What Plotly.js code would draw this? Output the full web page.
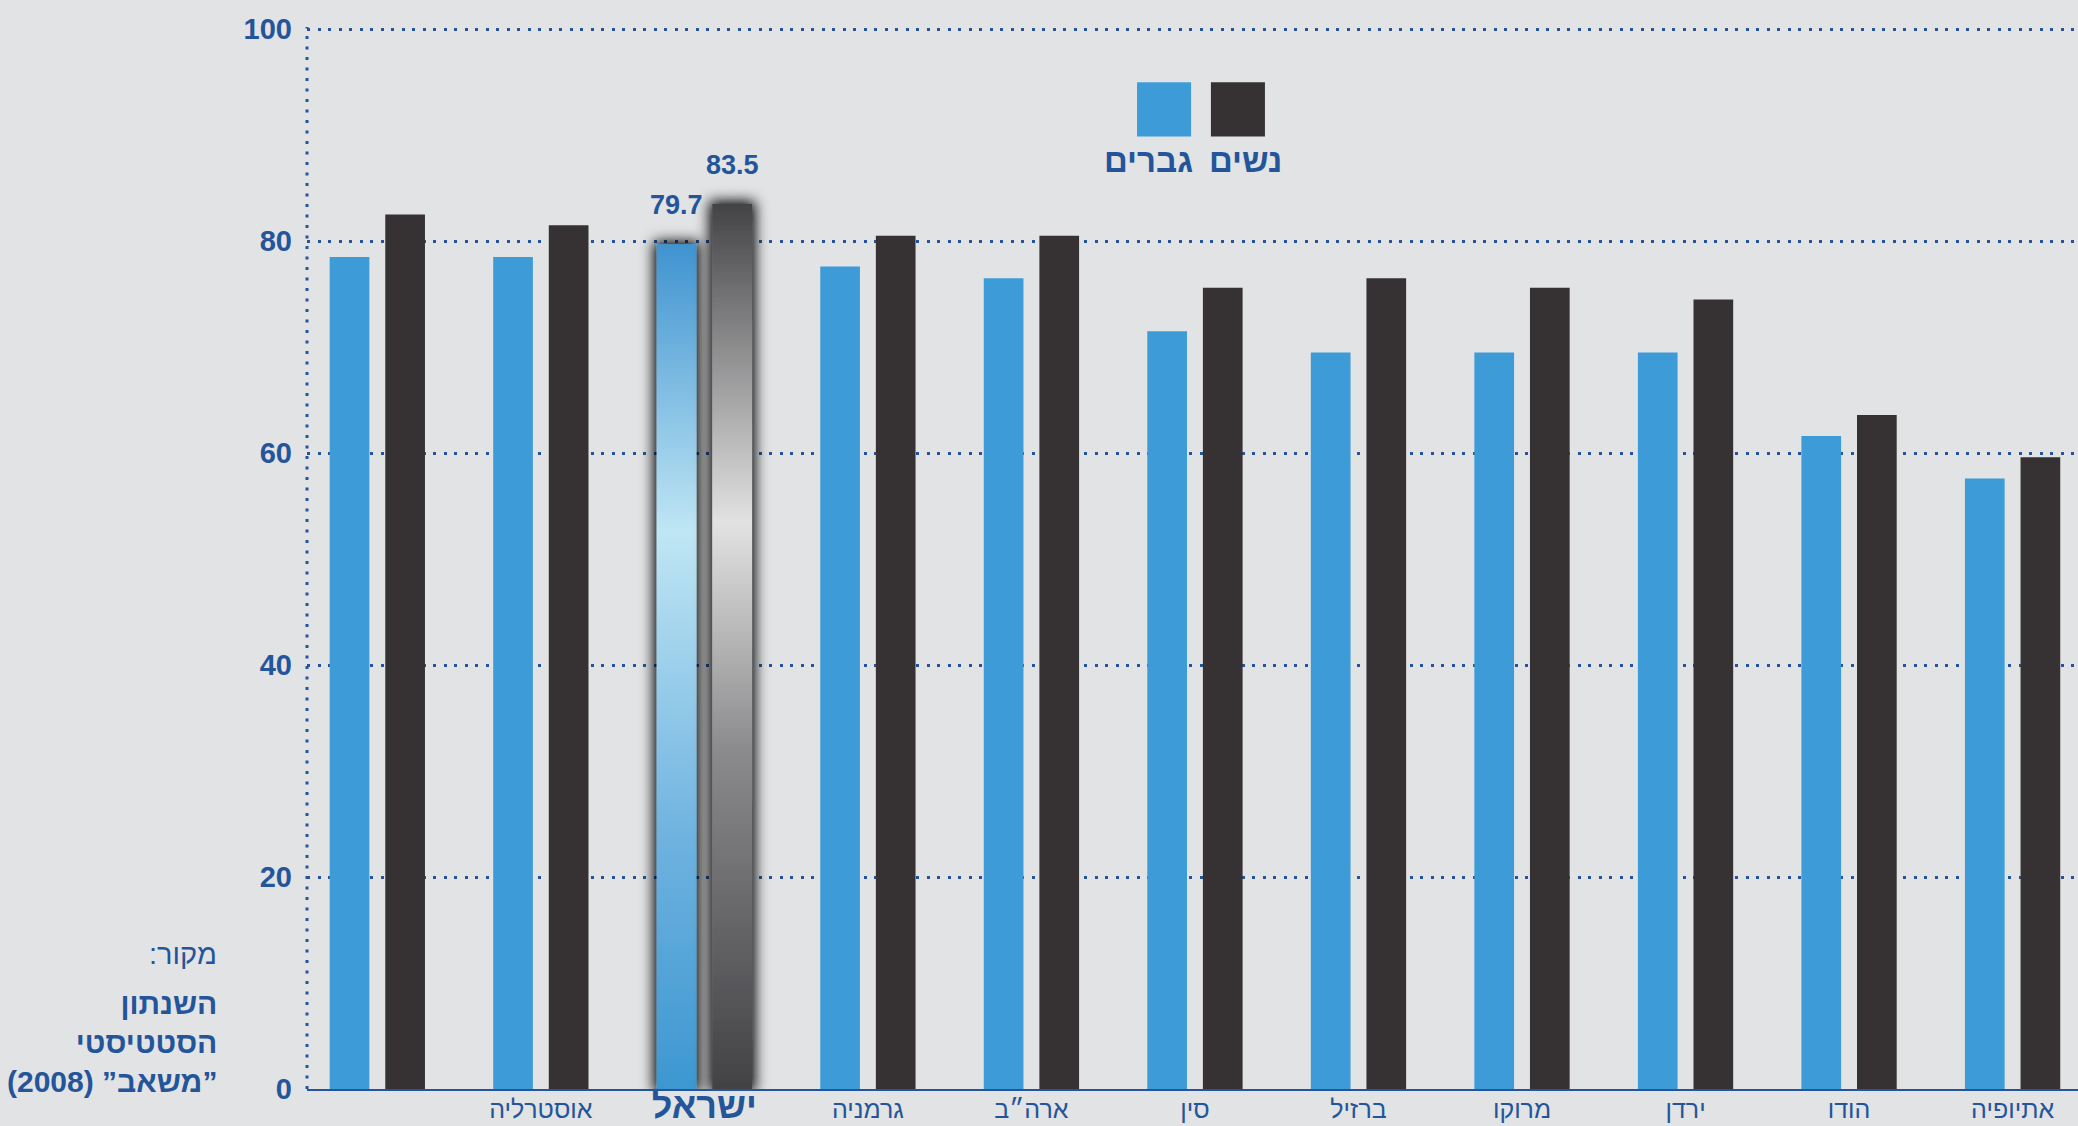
<!DOCTYPE html>
<html>
<head>
<meta charset="utf-8">
<script src="https://cdn.plot.ly/plotly-3.0.1.min.js"></script>
<style>
  html, body { margin: 0; padding: 0; background: #e2e3e5; }
  #chart { width: 2078px; height: 1126px; }
</style>
</head>
<body>
<div id="chart"></div>
<script>
// ---- data ----
const countries = ['', 'אוסטרליה', 'ישראל', 'גרמניה', 'ארה״ב', 'סין', 'ברזיל', 'מרוקו', 'ירדן', 'הודו', 'אתיופיה'];
const men   = [78.5, 78.5, 79.7, 77.6, 76.5, 71.5, 69.5, 69.5, 69.5, 61.6, 57.6];
const women = [82.5, 81.5, 83.5, 80.5, 80.5, 75.6, 76.5, 75.6, 74.5, 63.6, 59.6];
const menLabel = 'גברים';
const womenLabel = 'נשים';
const highlightIndex = 2;
const yTicks = [0, 20, 40, 60, 80, 100];
const sourceTitle = 'מקור:\u200F';
const sourceText = 'השנתון<br>הסטטיסטי<br>\u200F”משאב” (2008)\u200F';

// ---- styles ----
const BLUE = '#3d9cd8';
const DARK = '#363234';
const TXT = '#24559a';
const BG = '#e2e3e5';
const NUMFONT = '"Liberation Sans Narrow", "Liberation Sans", "DejaVu Sans Condensed", sans-serif';
const HEBFONT = '"Liberation Sans", "DejaVu Sans", sans-serif';

const xIdx = countries.map((_, i) => i);
const tickText = countries.map((c, i) =>
  i === highlightIndex ? '<b><span style="font-size:36px">' + c + '</span></b>' : c);

const traces = [
  { type: 'bar', name: menLabel, x: xIdx, y: men, marker: { color: BLUE }, hoverinfo: 'skip' },
  { type: 'bar', name: womenLabel, x: xIdx, y: women, marker: { color: DARK }, hoverinfo: 'skip' }
];

const annotations = [
  { xref: 'x', yref: 'y', x: highlightIndex, y: men[highlightIndex], xshift: -28, yshift: 22,
    yanchor: 'bottom', showarrow: false, text: '<b>' + men[highlightIndex].toFixed(1) + '</b>',
    font: { family: NUMFONT, size: 27, color: TXT } },
  { xref: 'x', yref: 'y', x: highlightIndex, y: women[highlightIndex], xshift: 28, yshift: 22,
    yanchor: 'bottom', showarrow: false, text: '<b>' + women[highlightIndex].toFixed(1) + '</b>',
    font: { family: NUMFONT, size: 27, color: TXT } },
  // legend labels
  { xref: 'paper', yref: 'paper', x: 0.4749, y: 0.8745, yanchor: 'middle', showarrow: false,
    text: '<b>' + menLabel + '</b>', font: { family: HEBFONT, size: 33, color: TXT } },
  { xref: 'paper', yref: 'paper', x: 0.5302, y: 0.8745, yanchor: 'middle', showarrow: false,
    text: '<b>' + womenLabel + '</b>', font: { family: HEBFONT, size: 33, color: TXT } },
  // source
  { xref: 'paper', yref: 'paper', x: -0.0497, y: 0.1274, xanchor: 'right', yanchor: 'middle', showarrow: false,
    text: sourceTitle, font: { family: HEBFONT, size: 29, color: TXT } },
  { xref: 'paper', yref: 'paper', x: -0.0497, y: 0.0434, xanchor: 'right', yanchor: 'middle', align: 'right',
    showarrow: false, text: '<b>' + sourceText + '</b>', font: { family: HEBFONT, size: 30, color: TXT } }
];

const shapes = [
  { type: 'rect', xref: 'paper', yref: 'paper', x0: 0.4687, x1: 0.4992, y0: 0.897, y1: 0.948,
    fillcolor: BLUE, line: { width: 0 } },
  { type: 'rect', xref: 'paper', yref: 'paper', x0: 0.5104, x1: 0.5409, y0: 0.897, y1: 0.948,
    fillcolor: DARK, line: { width: 0 } },
  { type: 'line', xref: 'paper', yref: 'paper', x0: 0, x1: 0, y0: 0, y1: 1, layer: 'below',
    line: { color: TXT, width: 3, dash: '3px,7.5px' } }
];

const layout = {
  width: 2078, height: 1126,
  paper_bgcolor: BG, plot_bgcolor: BG,
  margin: { l: 307, r: 0, t: 27, b: 37, pad: 0 },
  barmode: 'group', bargap: 0.32, bargroupgap: 0.286,
  showlegend: false,
  xaxis: {
    range: [-0.43, 10.4], tickmode: 'array', tickvals: xIdx, ticktext: tickText,
    showgrid: false, zeroline: false, showline: true, linecolor: TXT, linewidth: 2,
    ticks: '', ticklabelstandoff: -3,
    tickfont: { family: HEBFONT, size: 25, color: TXT }, fixedrange: true
  },
  yaxis: {
    range: [0, 100.2], tickmode: 'array', tickvals: yTicks,
    showgrid: true, gridcolor: TXT, gridwidth: 3, griddash: '3px,7.5px',
    zeroline: false, showline: false, ticks: '', ticklabelstandoff: 14,
    tickfont: { family: NUMFONT, size: 29, color: TXT, weight: 'bold' }, fixedrange: true
  },
  annotations: annotations,
  shapes: shapes
};

Plotly.newPlot('chart', traces, layout, { displayModeBar: false, staticPlot: true }).then(gd => {
  const svg = gd.querySelector('.main-svg');
  let defs = svg.querySelector('defs');
  defs.insertAdjacentHTML('beforeend',
    '<linearGradient id="gBlue" x1="0" y1="0" x2="0" y2="1">' +
      '<stop offset="0" stop-color="#3f93d0"/>' +
      '<stop offset="0.34" stop-color="#bfe6f4"/>' +
      '<stop offset="0.7" stop-color="#6fb3e0"/>' +
      '<stop offset="1" stop-color="#3d97d1"/>' +
    '</linearGradient>' +
    '<linearGradient id="gDark" x1="0" y1="0" x2="0" y2="1">' +
      '<stop offset="0" stop-color="#434345"/>' +
      '<stop offset="0.12" stop-color="#7a7a7c"/>' +
      '<stop offset="0.36" stop-color="#e2e2e2"/>' +
      '<stop offset="0.62" stop-color="#8a8a8c"/>' +
      '<stop offset="1" stop-color="#424244"/>' +
    '</linearGradient>' +
    '<filter id="fShadow" x="-100%" y="-10%" width="300%" height="120%">' +
      '<feMorphology in="SourceAlpha" operator="dilate" radius="3" result="d"/>' +
      '<feGaussianBlur in="d" stdDeviation="7"/>' +
      '<feComponentTransfer><feFuncA type="linear" slope="1.0"/></feComponentTransfer>' +
      '<feMerge><feMergeNode/><feMergeNode in="SourceGraphic"/></feMerge>' +
    '</filter>');
  const tr = gd.querySelectorAll('.barlayer .trace');
  const ids = ['gBlue', 'gDark'];
  tr.forEach((t, k) => {
    const pts = t.querySelectorAll('.point');
    const p = pts[highlightIndex];
    if (p) {
      const path = p.querySelector('path') || p;
      path.style.fill = 'url(#' + ids[k] + ')';
      path.setAttribute('filter', 'url(#fShadow)');
    }
  });
});
</script>
</body>
</html>
